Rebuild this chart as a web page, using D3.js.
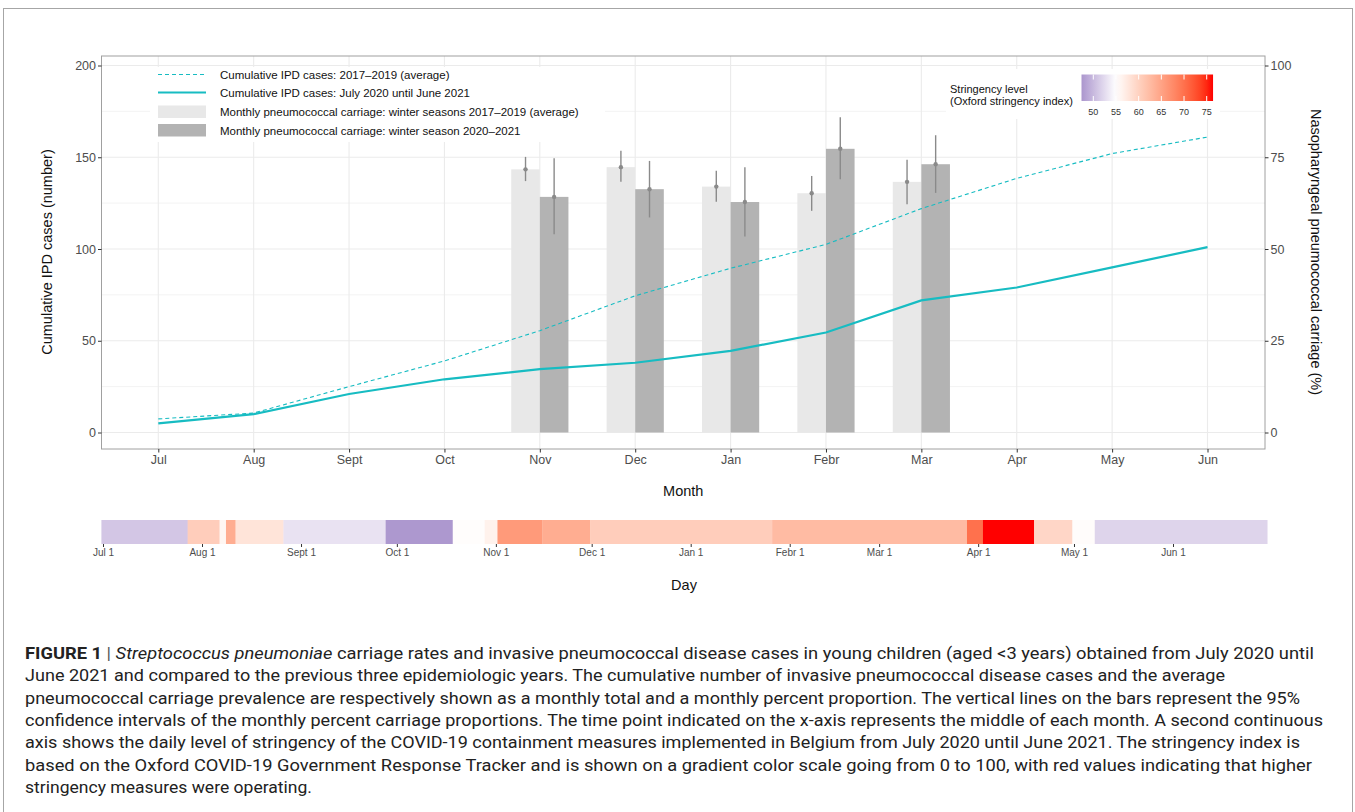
<!DOCTYPE html>
<html>
<head>
<meta charset="utf-8">
<script src="https://cdn.jsdelivr.net/npm/d3@7"></script>
<style>
  body { margin: 0; background: #fff; }
  svg { display: block; font-family: "Liberation Sans", Arial, sans-serif; }
</style>
</head>
<body>
<div id="graph"></div>
<script>
// monthly data (x axis = middle of each month)
var months = ["Jul", "Aug", "Sept", "Oct", "Nov", "Dec", "Jan", "Febr", "Mar", "Apr", "May", "Jun"];
var ipdAvg = [7.4, 10.6, 25, 39, 55.5, 74.5, 89.5, 102.5, 122, 138.5, 152, 161];
var ipd2020 = [5, 10, 21, 29, 34.5, 38, 44.5, 54.5, 72, 79, 90, 101];

var barMonths = ["Nov", "Dec", "Jan", "Febr", "Mar"];
var carriageAvg = [71.7, 72.3, 67.0, 65.2, 68.3];
var carriageAvgLo = [68.5, 68.3, 62.9, 60.4, 62.2];
var carriageAvgHi = [75.1, 76.8, 71.3, 69.9, 74.3];
var carriage2020 = [64.2, 66.3, 62.8, 77.3, 73.1];
var carriage2020Lo = [54.0, 58.6, 53.4, 69.0, 65.3];
var carriage2020Hi = [74.7, 74.0, 72.3, 85.9, 81.0];

var leftTicks = [0, 50, 100, 150, 200];
var rightTicks = [0, 25, 50, 75, 100];

// daily stringency, as runs of equal level (start date of each run)
var stringencyStart = ["2020-07-01", "2020-07-28", "2020-08-07", "2020-08-09", "2020-08-12", "2020-08-27",
  "2020-09-28", "2020-10-19", "2020-10-29", "2020-11-02", "2020-11-16", "2020-12-01", "2021-01-27",
  "2021-03-29", "2021-04-03", "2021-04-19", "2021-05-01", "2021-05-08"];
var stringencyLevel = [51, 60.5, 56, 64, 58, 53, 47.6, 55.2, 56.5, 66, 64, 60.5, 62.5, 70, 75.9, 59.5, 55.3, 52];
var stringencyEnd = "2021-07-01";
var dayTicks = ["2020-07-01", "2020-08-01", "2020-09-01", "2020-10-01", "2020-11-01", "2020-12-01",
  "2021-01-01", "2021-02-01", "2021-03-01", "2021-04-01", "2021-05-01", "2021-06-01"];
var dayTickLabels = ["Jul 1", "Aug 1", "Sept 1", "Oct 1", "Nov 1", "Dec 1", "Jan 1", "Febr 1", "Mar 1", "Apr 1", "May 1", "Jun 1"];
var legendTicks = [50, 55, 60, 65, 70, 75];

var captionLines = [
  "June 2021 and compared to the previous three epidemiologic years. The cumulative number of invasive pneumococcal disease cases and the average",
  "pneumococcal carriage prevalence are respectively shown as a monthly total and a monthly percent proportion. The vertical lines on the bars represent the 95%",
  "confidence intervals of the monthly percent carriage proportions. The time point indicated on the x-axis represents the middle of each month. A second continuous",
  "axis shows the daily level of stringency of the COVID-19 containment measures implemented in Belgium from July 2020 until June 2021. The stringency index is",
  "based on the Oxford COVID-19 Government Response Tracker and is shown on a gradient color scale going from 0 to 100, with red values indicating that higher",
  "stringency measures were operating."
];
var captionEnds = [1225, 1300, 1323, 1300, 1312, 312];

var W = 1355, H = 812;
var teal = "#17BCC2";

var svg = d3.select("#graph").append("svg")
  .attr("width", W)
  .attr("height", H);

// figure frame
svg.append("rect")
  .attr("x", 3.5).attr("y", 8.5).attr("width", 1349).attr("height", 820)
  .attr("fill", "none").attr("stroke", "#A6A6A6").attr("stroke-width", 1);

var panel = { left: 101.5, right: 1265, top: 56, bottom: 449 };

var x = d3.scalePoint().domain(months).range([158.3, 1207.5]);
var yL = d3.scaleLinear().domain([0, 200]).range([432.5, 65.5]);
var yR = d3.scaleLinear().domain([0, 100]).range([432.5, 65.5]);
var sub = d3.scaleBand().domain(["avg", "cur"]).range([-28.6, 28.6]);

var g = svg.append("g");

// grid
g.selectAll(".hgrid")
  .data(d3.range(0, 201, 25))
  .enter().append("line")
  .attr("x1", panel.left).attr("x2", panel.right)
  .attr("y1", function(d) { return yL(d); })
  .attr("y2", function(d) { return yL(d); })
  .attr("stroke", "#EBEBEB")
  .attr("stroke-width", function(d) { return d % 50 === 0 ? 1.1 : 0.6; });

g.selectAll(".vgrid")
  .data(months)
  .enter().append("line")
  .attr("x1", function(d) { return x(d); })
  .attr("x2", function(d) { return x(d); })
  .attr("y1", panel.top).attr("y2", panel.bottom)
  .attr("stroke", "#EBEBEB").attr("stroke-width", 1.1);

// bars
var bars = barMonths.map(function(m, i) {
  return [
    { m: m, key: "avg", v: carriageAvg[i], lo: carriageAvgLo[i], hi: carriageAvgHi[i] },
    { m: m, key: "cur", v: carriage2020[i], lo: carriage2020Lo[i], hi: carriage2020Hi[i] }
  ];
}).flat();

g.selectAll(".bar")
  .data(bars)
  .enter().append("rect")
  .attr("x", function(d) { return x(d.m) + sub(d.key); })
  .attr("width", sub.bandwidth())
  .attr("y", function(d) { return yR(d.v); })
  .attr("height", function(d) { return yR(0) - yR(d.v); })
  .attr("fill", function(d) { return d.key === "avg" ? "#E8E8E8" : "#B3B3B3"; });

g.selectAll(".err")
  .data(bars)
  .enter().append("line")
  .attr("x1", function(d) { return x(d.m) + sub(d.key) + sub.bandwidth() / 2; })
  .attr("x2", function(d) { return x(d.m) + sub(d.key) + sub.bandwidth() / 2; })
  .attr("y1", function(d) { return yR(d.lo); })
  .attr("y2", function(d) { return yR(d.hi); })
  .attr("stroke", "#8A8A8A").attr("stroke-width", 1.4);

g.selectAll(".pt")
  .data(bars)
  .enter().append("circle")
  .attr("cx", function(d) { return x(d.m) + sub(d.key) + sub.bandwidth() / 2; })
  .attr("cy", function(d) { return yR(d.v); })
  .attr("r", 2.2)
  .attr("fill", "#8A8A8A");

// lines
var line = d3.line()
  .x(function(d, i) { return x(months[i]); })
  .y(function(d) { return yL(d); });

g.append("path").datum(ipdAvg)
  .attr("d", line).attr("fill", "none")
  .attr("stroke", teal).attr("stroke-width", 1.1).attr("stroke-dasharray", "4,3");

g.append("path").datum(ipd2020)
  .attr("d", line).attr("fill", "none")
  .attr("stroke", teal).attr("stroke-width", 2.2);

// panel border
g.append("rect")
  .attr("x", panel.left).attr("y", panel.top)
  .attr("width", panel.right - panel.left).attr("height", panel.bottom - panel.top)
  .attr("fill", "none").attr("stroke", "#A0A0A0").attr("stroke-width", 1);

// axes
var axL = svg.append("g").attr("transform", "translate(" + panel.left + ",0)")
  .call(d3.axisLeft(yL).tickValues(leftTicks).tickSize(3.5).tickPadding(2));
var axR = svg.append("g").attr("transform", "translate(" + panel.right + ",0)")
  .call(d3.axisRight(yR).tickValues(rightTicks).tickSize(3.5).tickPadding(2));
var axB = svg.append("g").attr("transform", "translate(0," + panel.bottom + ")")
  .call(d3.axisBottom(x).tickSize(3.5).tickPadding(3));

[axL, axR, axB].forEach(function(a) {
  a.select(".domain").remove();
  a.selectAll(".tick line").attr("stroke", "#333");
  a.selectAll(".tick text").attr("fill", "#4D4D4D").attr("font-size", "12.5px")
    .attr("font-family", "Liberation Sans, Arial, sans-serif");
});

svg.append("text")
  .attr("transform", "translate(52,252) rotate(-90)")
  .attr("text-anchor", "middle").attr("font-size", "14.5px").attr("fill", "#111")
  .text("Cumulative IPD cases (number)");

svg.append("text")
  .attr("transform", "translate(1311,252) rotate(90)")
  .attr("text-anchor", "middle").attr("font-size", "14.5px").attr("fill", "#111")
  .text("Nasopharyngeal pneumococcal carriage (%)");

svg.append("text")
  .attr("x", (panel.left + panel.right) / 2).attr("y", 496)
  .attr("text-anchor", "middle").attr("font-size", "14.5px").attr("fill", "#111")
  .text("Month");

// legend (top left)
var lg = svg.append("g");
lg.append("rect").attr("x", 150).attr("y", 67).attr("width", 455).attr("height", 75).attr("fill", "#fff");
var legendItems = [
  { label: "Cumulative IPD cases: 2017\u20132019 (average)", type: "dash", y: 74.5 },
  { label: "Cumulative IPD cases: July 2020 until June 2021", type: "solid", y: 92.5 },
  { label: "Monthly pneumococcal carriage: winter seasons 2017\u20132019 (average)", type: "light", y: 112 },
  { label: "Monthly pneumococcal carriage: winter season 2020\u20132021", type: "dark", y: 130.5 }
];
legendItems.forEach(function(it) {
  if (it.type === "dash" || it.type === "solid") {
    lg.append("line").attr("x1", 158).attr("x2", 206).attr("y1", it.y).attr("y2", it.y)
      .attr("stroke", teal)
      .attr("stroke-width", it.type === "solid" ? 2.2 : 1.1)
      .attr("stroke-dasharray", it.type === "dash" ? "4,3" : null);
  } else {
    lg.append("rect").attr("x", 158).attr("width", 48).attr("y", it.y - 6.5).attr("height", 12.5)
      .attr("fill", it.type === "light" ? "#E8E8E8" : "#B3B3B3");
  }
  lg.append("text").attr("x", 220).attr("y", it.y + 4)
    .attr("font-size", "11.5px").attr("fill", "#111").text(it.label);
});

// stringency colour scale
var color = d3.scaleLinear()
  .domain([47.2, 55, 75.9])
  .range(["#A993CC", "#FFFFFF", "#FF0000"])
  .interpolate(d3.interpolateLab);

// stringency legend (top right)
var sl = svg.append("g");
sl.append("rect").attr("x", 946).attr("y", 69).attr("width", 274).attr("height", 50).attr("fill", "#fff");
sl.append("text").attr("x", 950).attr("y", 93).attr("font-size", "11px").attr("fill", "#111").text("Stringency level");
sl.append("text").attr("x", 950).attr("y", 104.5).attr("font-size", "11px").attr("fill", "#111").text("(Oxford stringency index)");

var lx = d3.scaleLinear().domain([50, 75]).range([1093.3, 1206.7]);
var grad = svg.append("defs").append("linearGradient").attr("id", "strGrad")
  .attr("x1", "0%").attr("x2", "100%").attr("y1", "0%").attr("y2", "0%");
var lMin = 47.4, lMax = 76.4;
d3.range(0, 1.0001, 0.05).forEach(function(t) {
  grad.append("stop").attr("offset", (t * 100) + "%").attr("stop-color", color(lMin + t * (lMax - lMin)));
});
sl.append("rect").attr("x", lx(lMin)).attr("y", 74.5)
  .attr("width", lx(lMax) - lx(lMin)).attr("height", 26.5).attr("fill", "url(#strGrad)");
legendTicks.forEach(function(t) {
  sl.append("line").attr("x1", lx(t)).attr("x2", lx(t)).attr("y1", 74.5).attr("y2", 79.5).attr("stroke", "#fff");
  sl.append("line").attr("x1", lx(t)).attr("x2", lx(t)).attr("y1", 96).attr("y2", 101).attr("stroke", "#fff");
  sl.append("text").attr("x", lx(t)).attr("y", 114.5).attr("text-anchor", "middle")
    .attr("font-size", "9px").attr("fill", "#333").text(t);
});

// daily stringency strip
var parse = d3.timeParse("%Y-%m-%d");
var day = d3.scaleTime().domain([parse("2020-07-01"), parse("2021-06-01")]).range([103, 1173]);
var half = 12 * 3600 * 1000;
var runs = stringencyStart.map(function(s, i) {
  var start = parse(s);
  var end = parse(i < stringencyStart.length - 1 ? stringencyStart[i + 1] : stringencyEnd);
  return { start: start, end: end, v: stringencyLevel[i] };
});

svg.selectAll(".run")
  .data(runs)
  .enter().append("rect")
  .attr("x", function(d) { return day(new Date(d.start - half)); })
  .attr("width", function(d) { return day(new Date(d.end - half)) - day(new Date(d.start - half)) + 0.3; })
  .attr("y", 520).attr("height", 24)
  .attr("fill", function(d) { return color(d.v); });

var axD = svg.append("g").attr("transform", "translate(0,544)")
  .call(d3.axisBottom(day).tickValues(dayTicks.map(parse)).tickSize(3).tickPadding(2)
    .tickFormat(function(d, i) { return dayTickLabels[i]; }));
axD.select(".domain").remove();
axD.selectAll(".tick line").attr("stroke", "#333");
axD.selectAll(".tick text").attr("fill", "#4D4D4D").attr("font-size", "10px")
  .attr("font-family", "Liberation Sans, Arial, sans-serif");

svg.append("text")
  .attr("x", 684).attr("y", 590)
  .attr("text-anchor", "middle").attr("font-size", "14.5px").attr("fill", "#111")
  .text("Day");

// caption
var capFont = "'Liberation Sans Narrow', 'Roboto', sans-serif";
var cap1 = svg.append("text").attr("x", 25).attr("y", 659)
  .attr("font-size", "16.5px").attr("fill", "#222").attr("font-family", capFont)
  .attr("textLength", 1314 - 25).attr("lengthAdjust", "spacingAndGlyphs");
cap1.append("tspan").attr("font-weight", "bold").text("FIGURE 1");
cap1.append("tspan").attr("fill", "#555").text(" | ");
cap1.append("tspan").attr("font-style", "italic").text("Streptococcus pneumoniae");
cap1.append("tspan").text(" carriage rates and invasive pneumococcal disease cases in young children (aged <3 years) obtained from July 2020 until");

captionLines.forEach(function(l, i) {
  svg.append("text").attr("x", 25).attr("y", 659 + (i + 1) * 22.3)
    .attr("font-size", "16.5px").attr("fill", "#222").attr("font-family", capFont)
    .attr("textLength", captionEnds[i] - 25).attr("lengthAdjust", "spacingAndGlyphs")
    .text(l);
});
</script>
</body>
</html>
